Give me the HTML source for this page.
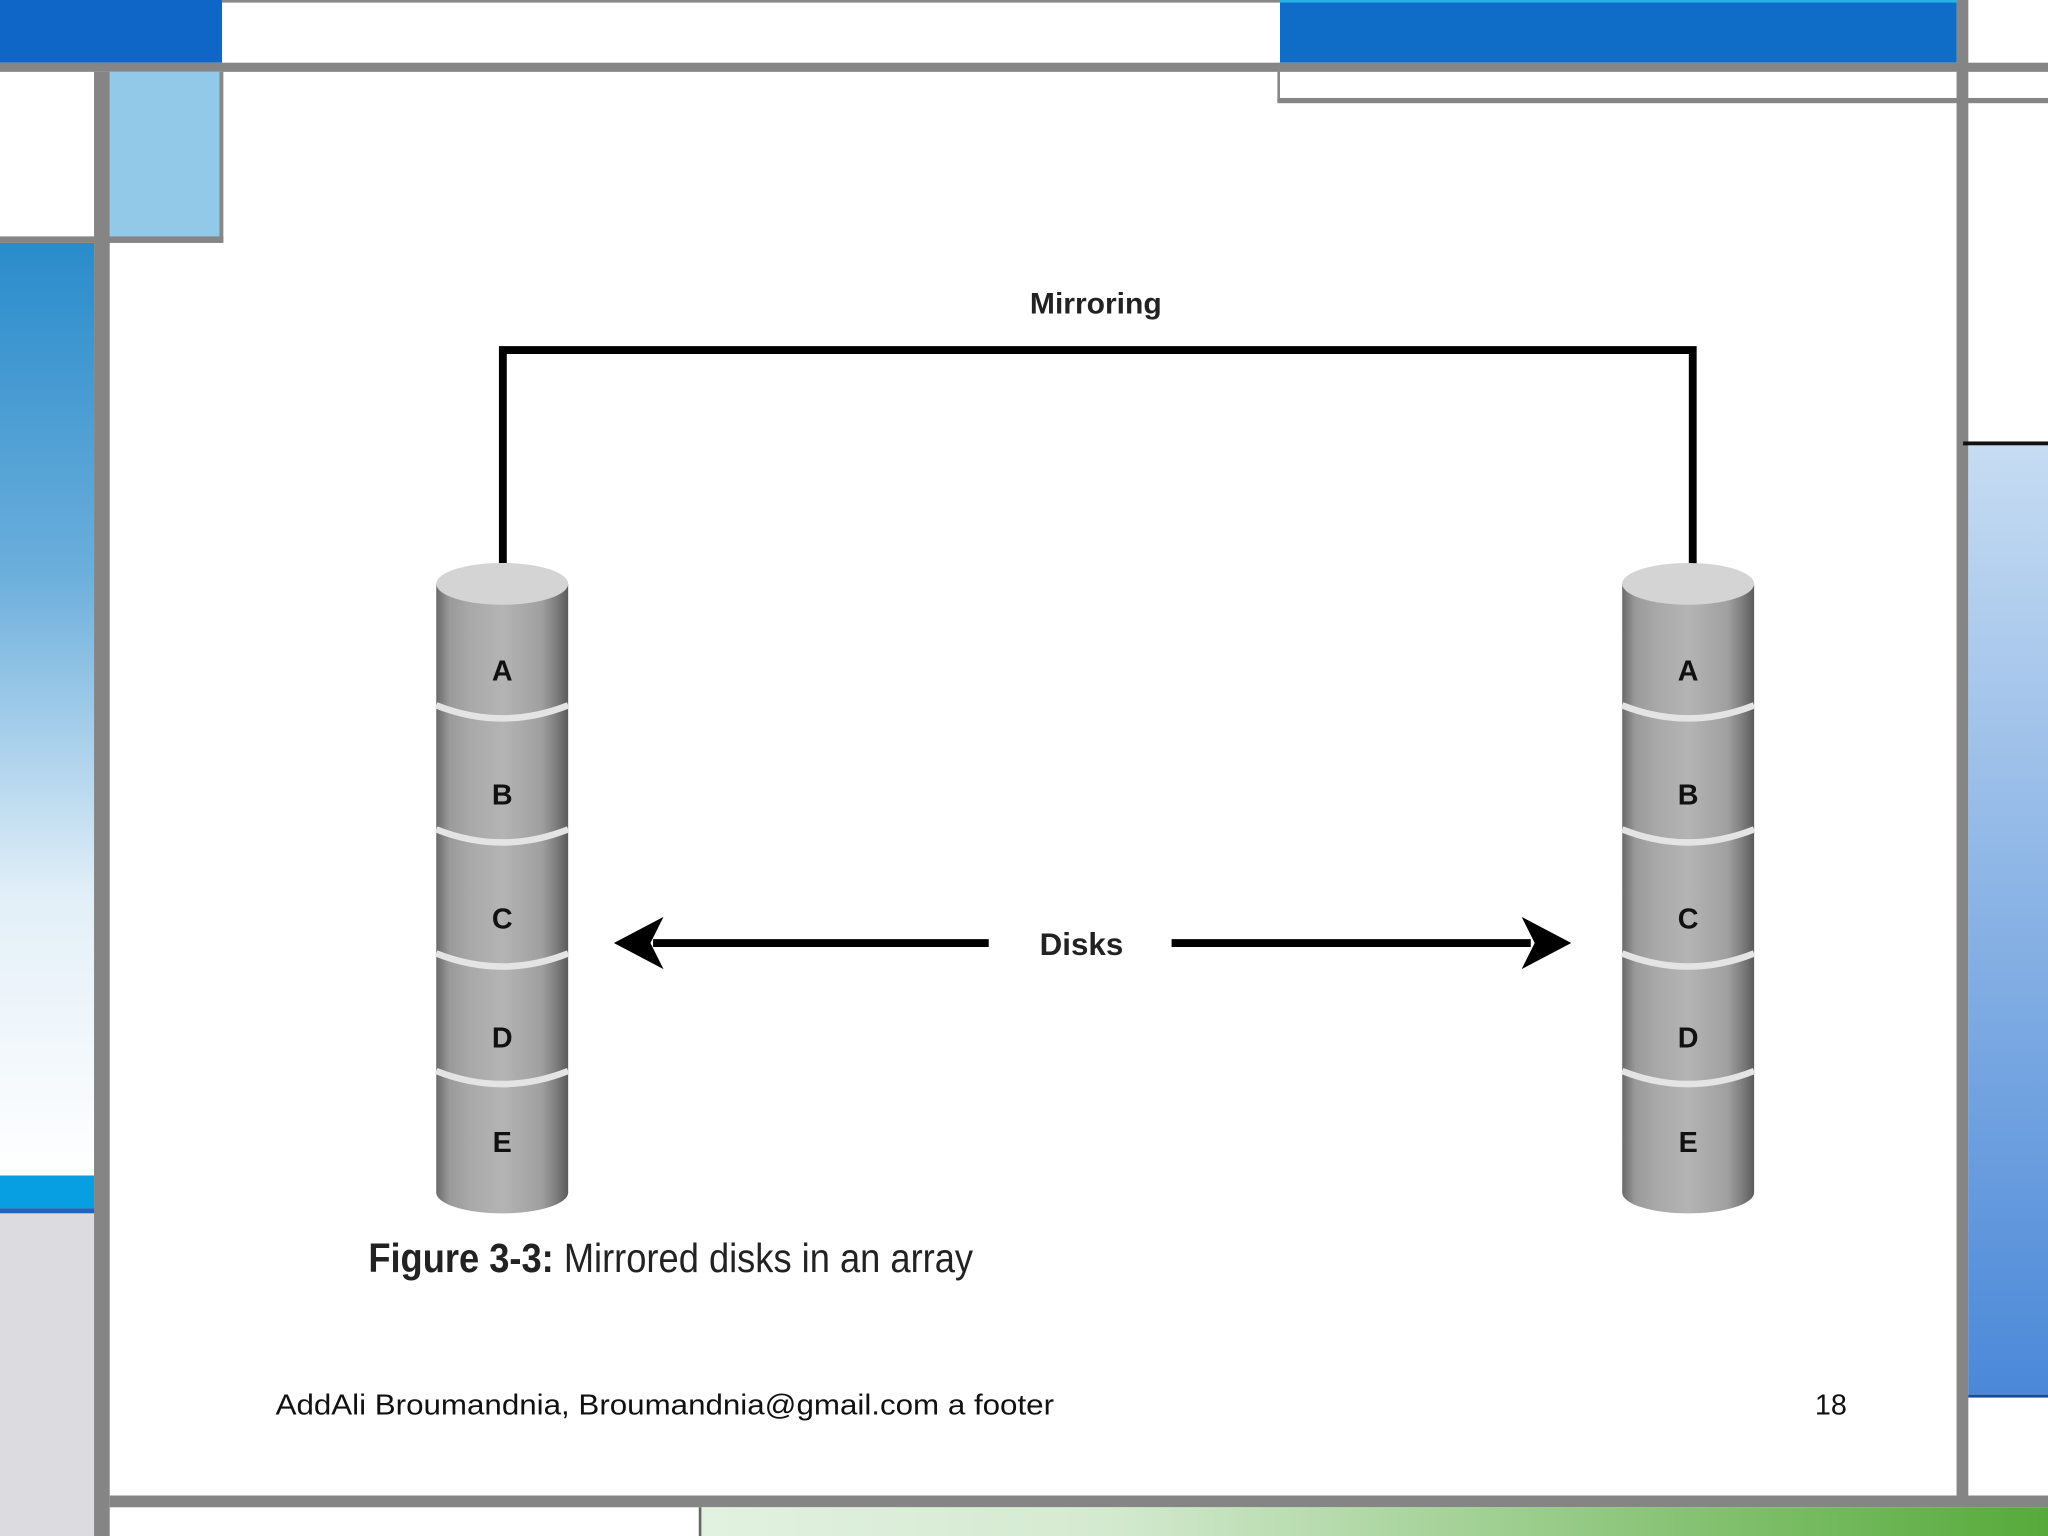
<!DOCTYPE html>
<html><head><meta charset="utf-8"><style>
html,body{margin:0;padding:0;background:#fff;}
svg{display:block;}
</style></head><body>
<svg width="2048" height="1536" viewBox="0 0 1568 1176" xmlns="http://www.w3.org/2000/svg">
<defs>
<linearGradient id="lg" x1="0" y1="0" x2="0" y2="1">
<stop offset="0" stop-color="#2a8ccb"/><stop offset="0.35" stop-color="#6aaedc"/><stop offset="0.7" stop-color="#e2eff8"/><stop offset="1" stop-color="#ffffff"/>
</linearGradient>
<linearGradient id="rg" x1="0" y1="0" x2="0" y2="1">
<stop offset="0" stop-color="#c6dcf2"/><stop offset="1" stop-color="#4a88d8"/>
</linearGradient>
<linearGradient id="gg" x1="0" y1="0" x2="1" y2="0">
<stop offset="0" stop-color="#e2f2e0"/><stop offset="0.3" stop-color="#d4ead0"/><stop offset="1" stop-color="#56aa3a"/>
</linearGradient>
<linearGradient id="cyl" x1="0" y1="0" x2="1" y2="0">
<stop offset="0" stop-color="#6a6a6a"/><stop offset="0.1" stop-color="#9a9a9a"/><stop offset="0.25" stop-color="#a8a8a8"/><stop offset="0.5" stop-color="#b4b4b4"/><stop offset="0.8" stop-color="#a0a0a0"/><stop offset="0.92" stop-color="#7a7a7a"/><stop offset="1" stop-color="#5a5a5a"/>
</linearGradient>
</defs>
<rect width="1568" height="1176" fill="#fff"/>
<!-- top -->
<rect x="0" y="0" width="170" height="48" fill="#0f66c6"/>
<rect x="170" y="0" width="810" height="2" fill="#888"/>
<rect x="980" y="0" width="518" height="48" fill="#0f6dc8"/>
<rect x="980" y="0" width="518" height="2" fill="#2ab0e6"/>
<rect x="0" y="48" width="1568" height="7" fill="#858585"/>
<rect x="978" y="48" width="2" height="30" fill="#888"/>
<rect x="978" y="75" width="590" height="4" fill="#858585"/>
<!-- left -->
<rect x="84" y="55" width="85" height="127" fill="#93c9e8"/>
<rect x="168" y="55" width="3" height="130" fill="#888"/>
<rect x="0" y="181" width="171" height="5" fill="#858585"/>
<rect x="0" y="186" width="72" height="714" fill="url(#lg)"/>
<rect x="0" y="900" width="72" height="25" fill="#079ee2"/>
<rect x="0" y="925" width="78" height="4" fill="#1a66c0"/>
<rect x="0" y="929" width="72" height="247" fill="#dcdbdf"/>
<rect x="72" y="55" width="12" height="1121" fill="#858585"/>
<!-- right -->
<rect x="1498" y="0" width="9" height="1150" fill="#858585"/>
<rect x="1503" y="338" width="65" height="3" fill="#111"/>
<rect x="1507" y="341" width="61" height="729" fill="url(#rg)"/>
<rect x="1507" y="1068" width="61" height="2" fill="#1a4a90"/>
<!-- bottom -->
<rect x="84" y="1145" width="1484" height="9" fill="#858585"/>
<rect x="535" y="1154" width="1033" height="22" fill="url(#gg)"/>
<rect x="535" y="1154" width="2" height="22" fill="#666"/>
<!-- mirroring bracket -->
<text x="839" y="240" font-family="Liberation Sans, sans-serif" font-weight="bold" font-size="23" text-anchor="middle" fill="#222">Mirroring</text>
<path d="M385 432 V268 H1296 V432" fill="none" stroke="#000" stroke-width="6"/>
<!-- cylinders -->
<g id="c1">
<rect x="334" y="447" width="101" height="466" fill="url(#cyl)"/>
<ellipse cx="384.5" cy="913" rx="50.5" ry="16" fill="url(#cyl)"/>
<ellipse cx="384.5" cy="447" rx="50.5" ry="16" fill="#d4d4d4"/>
<path d="M334 540 Q384.5 560 435 540" fill="none" stroke="#e4e4e4" stroke-width="5"/>
<path d="M334 635 Q384.5 655 435 635" fill="none" stroke="#e4e4e4" stroke-width="5"/>
<path d="M334 730 Q384.5 750 435 730" fill="none" stroke="#e4e4e4" stroke-width="5"/>
<path d="M334 820 Q384.5 840 435 820" fill="none" stroke="#e4e4e4" stroke-width="5"/>
<g font-family="Liberation Sans, sans-serif" font-weight="bold" font-size="22" text-anchor="middle" fill="#111">
<text x="384.5" y="521">A</text><text x="384.5" y="616">B</text><text x="384.5" y="711">C</text><text x="384.5" y="802">D</text><text x="384.5" y="882">E</text>
</g>
</g>
<use href="#c1" x="908"/>
<!-- disks arrows -->
<text x="828" y="731" font-family="Liberation Sans, sans-serif" font-weight="bold" font-size="24" text-anchor="middle" fill="#222">Disks</text>
<line x1="500" y1="722" x2="757" y2="722" stroke="#000" stroke-width="6"/>
<path d="M470 722 L508 702 L498 722 L508 742 Z" fill="#000"/>
<line x1="897" y1="722" x2="1172" y2="722" stroke="#000" stroke-width="6"/>
<path d="M1203 722 L1165 702 L1175 722 L1165 742 Z" fill="#000"/>
<!-- caption -->
<text x="282" y="974" font-family="Liberation Sans Narrow, Liberation Sans, sans-serif" font-size="31" fill="#222" textLength="463" lengthAdjust="spacingAndGlyphs"><tspan font-weight="bold">Figure 3-3:</tspan> Mirrored disks in an array</text>
<!-- footer -->
<text x="211" y="1083" font-family="Liberation Sans, sans-serif" font-size="22" fill="#111" textLength="596" lengthAdjust="spacingAndGlyphs">AddAli Broumandnia, Broumandnia@gmail.com a footer</text>
<text x="1414" y="1083" font-family="Liberation Sans, sans-serif" font-size="22" fill="#111" text-anchor="end">18</text>
</svg>
</body></html>
